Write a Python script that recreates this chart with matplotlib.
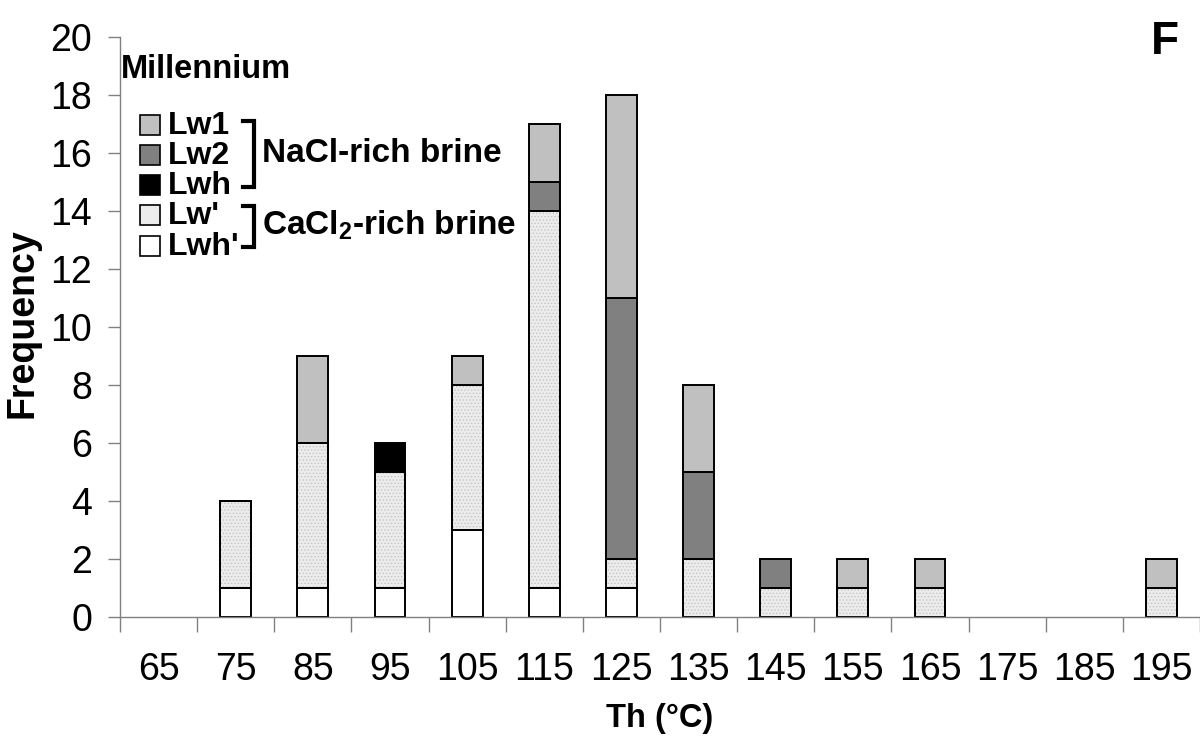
import matplotlib
matplotlib.use('Agg')
import matplotlib.pyplot as plt
from matplotlib.patches import Rectangle
import numpy as np

plt.rcParams['font.family'] = ['Liberation Sans', 'DejaVu Sans']
plt.rcParams['mathtext.fontset'] = 'custom'
plt.rcParams['mathtext.rm'] = 'Liberation Sans'
plt.rcParams['mathtext.bf'] = 'Liberation Sans:bold'
plt.rcParams['hatch.linewidth'] = 0.6

# Th classes (°C)
temps = ['65', '75', '85', '95', '105', '115', '125', '135', '145', '155', '165', '175', '185', '195']
# frequencies, stacked bottom -> top
lwh_p = [0, 1, 1, 1, 3, 1, 1, 0, 0, 0, 0, 0, 0, 0]
lw_p  = [0, 3, 5, 4, 5, 13, 1, 2, 1, 1, 1, 0, 0, 1]
lwh   = [0, 0, 0, 1, 0, 0, 0, 0, 0, 0, 0, 0, 0, 0]
lw2   = [0, 0, 0, 0, 0, 1, 9, 3, 1, 0, 0, 0, 0, 0]
lw1   = [0, 0, 3, 0, 1, 2, 7, 3, 0, 1, 1, 0, 0, 1]

series = [
    ("Lwh'", lwh_p, 'white', None),
    ("Lw'", lw_p, '#ececec', '.....'),
    ('Lwh', lwh, 'black', None),
    ('Lw2', lw2, '#808080', None),
    ('Lw1', lw1, '#c0c0c0', None),
]

fig = plt.figure(figsize=(12, 7.42), dpi=100)
ax = fig.add_axes([0.1, 1 - 617 / 742, 0.9, (617 - 37) / 742])

x = np.arange(len(temps))
w = 0.4
bottom = np.zeros(len(temps))
for name, vals, col, hatch in series:
    vals = np.array(vals, dtype=float)
    h = np.where(vals > 0, vals, np.nan)  # no empty outlines for zero counts
    ax.bar(x, h, w, bottom=bottom, color=col, edgecolor='black', linewidth=1.4)
    if hatch:
        ax.bar(x, h, w, bottom=bottom, color='none', edgecolor='#c4c4c4',
               hatch=hatch, linewidth=0)
        ax.bar(x, h, w, bottom=bottom, color='none', edgecolor='black', linewidth=1.4)
    bottom += vals

ax.set_xlim(-0.5, len(temps) - 0.5)
ax.set_ylim(0, 20)
ax.set_yticks(range(0, 21, 2))
ax.tick_params(axis='y', labelsize=27, length=9, width=1, color='#808080', pad=11)
ax.set_xticks(np.arange(len(temps) + 1) - 0.5)
ax.set_xticklabels([])
ax.tick_params(axis='x', which='major', length=11, width=1, color='#808080')
ax.set_xticks(x, minor=True)
ax.set_xticklabels(temps, minor=True)
ax.tick_params(axis='x', which='minor', length=0, labelsize=27, pad=25)
for s in ['top', 'right']:
    ax.spines[s].set_visible(False)
for s in ['left', 'bottom']:
    ax.spines[s].set_color('#808080')
    ax.spines[s].set_linewidth(1)

# overlay in pixel coordinates for labels and legend
ov = fig.add_axes([0, 0, 1, 1], facecolor='none')
ov.set_xlim(0, 1200)
ov.set_ylim(742, 0)
ov.axis('off')

ov.text(23, 323, 'Frequency', rotation=90, ha='center', va='center', fontsize=27, fontweight='bold')
ov.text(660, 718, 'Th (°C)', ha='center', va='center', fontsize=23.5, fontweight='bold')
ov.text(121, 70, 'Millennium', ha='left', va='center', fontsize=23.5, fontweight='bold')
ov.text(1165, 42, 'F', ha='center', va='center', fontsize=33, fontweight='bold')

rows = [125, 155, 185, 215, 246]
for (name, vals, col, hatch), yc in zip(series[::-1], rows):
    ov.add_patch(Rectangle((140, yc - 10), 20, 20, facecolor=col, edgecolor='black', linewidth=1.2))
    ov.text(168, yc + 1, name, ha='left', va='center', fontsize=23, fontweight='bold')

# brackets
ov.plot([243, 254, 254, 243], [121, 121, 187, 187], color='black', lw=3, solid_joinstyle='miter')
ov.plot([243, 254, 254, 243], [206, 206, 247, 247], color='black', lw=3, solid_joinstyle='miter')
ov.text(262, 154, 'NaCl-rich brine', ha='left', va='center', fontsize=24, fontweight='bold')
ov.text(262, 225, r'CaCl$_\mathbf{2}$-rich brine', ha='left', va='center', fontsize=24, fontweight='bold')

fig.savefig('out.png', dpi=100)
